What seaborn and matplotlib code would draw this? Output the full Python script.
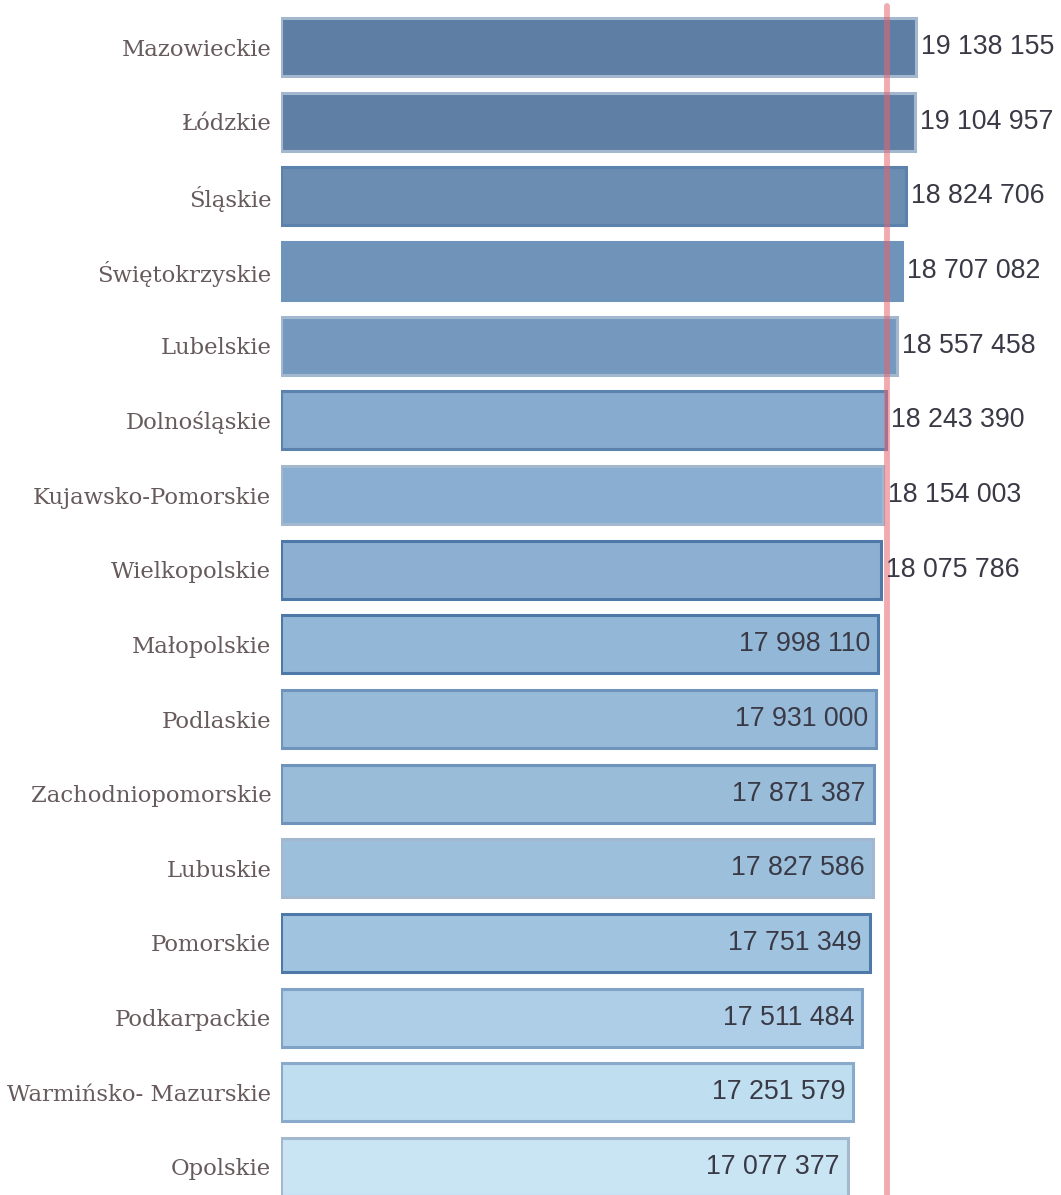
import matplotlib
matplotlib.use("Agg")
import matplotlib.pyplot as plt
import seaborn as sns
import pandas as pd

regions = ["Mazowieckie", "Łódzkie", "Śląskie", "Świętokrzyskie", "Lubelskie",
           "Dolnośląskie", "Kujawsko-Pomorskie", "Wielkopolskie", "Małopolskie",
           "Podlaskie", "Zachodniopomorskie", "Lubuskie", "Pomorskie",
           "Podkarpackie", "Warmińsko- Mazurskie", "Opolskie"]
values = [19138155, 19104957, 18824706, 18707082, 18557458, 18243390,
          18154003, 18075786, 17998110, 17931000, 17871387, 17827586,
          17751349, 17511484, 17251579, 17077377]
reference_value = 18260000

fill_colors = ["#5e7fa3", "#5f80a4", "#6b8db2", "#7094b9", "#7599be",
               "#87abcf", "#8aaed1", "#8cafd2", "#93b7d6", "#96bad8",
               "#99bcd9", "#9cbfdc", "#a0c4e0", "#aecde6", "#bfdff1", "#c9e4f3"]
edge_colors = ["#a3b8cf", "#a3b8cf", "#5a82ad", "#6f94bb", "#a3b8cf",
               "#5a82ad", "#a3b8cf", "#4e78a8", "#4e78a8", "#6f94bb",
               "#6f94bb", "#a3b8cf", "#4e78a8", "#7fa2c6", "#8aaacb", "#a3b8cf"]

df = pd.DataFrame({"region": regions, "value": values})

sns.set_theme(style="white")
plt.rcParams['font.family'] = ['DejaVu Serif']

fig = plt.figure(figsize=(10.61, 11.95), dpi=100)
ax = fig.add_axes([281 / 1061, 0.0, 1 - 281 / 1061, 1.0])

sns.barplot(data=df, x="value", y="region", hue="region", palette=fill_colors,
            legend=False, width=0.78, ax=ax, orient="h", saturation=1)

for patch, ec in zip(ax.patches, edge_colors):
    patch.set_edgecolor(ec)
    patch.set_linewidth(2.2)

ax.axvline(reference_value, color="#e7646f", alpha=0.55, lw=4.2,
           ymin=0, ymax=0.995, zorder=5)

px_per_unit = 33.18 / 1e6
xmax = (1061 - 281) / px_per_unit
ax.set_xlim(0, xmax)
step = 74.6
ax.set_ylim(15 + (1195 - 1167) / step, -47 / step)

for i, v in enumerate(values):
    label = f"{v:,}".replace(",", " ")
    if i < 8:
        ax.text(v + 5 / px_per_unit, i, label, ha="left", va="center",
                fontsize=19.3, color="#3a3a46", family=["Liberation Sans", "DejaVu Sans"],
                zorder=6)
    else:
        ax.text(v - 8 / px_per_unit, i, label, ha="right", va="center",
                fontsize=19.3, color="#3a3a46", family=["Liberation Sans", "DejaVu Sans"],
                zorder=6)

ax.set_xlabel("")
ax.set_ylabel("")
ax.set_xticks([])
ax.tick_params(axis="y", length=0, pad=7)
for lbl in ax.get_yticklabels():
    lbl.set_fontsize(16.4)
    lbl.set_color("#665a5c")
for s in ax.spines.values():
    s.set_visible(False)

fig.savefig("out.png", dpi=100)
